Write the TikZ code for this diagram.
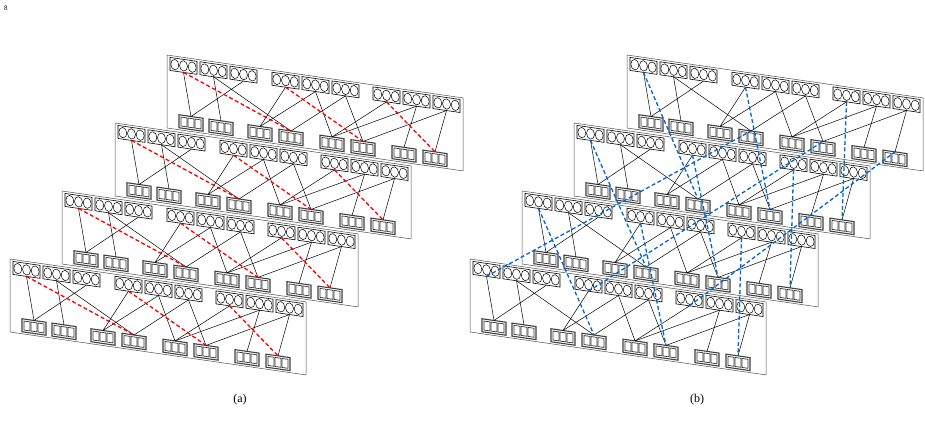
\documentclass[tikz,border=0pt]{standalone}
\usepackage{fontspec}
\setmainfont{Liberation Serif}
\begin{document}
\begin{tikzpicture}[x=1pt,y=-1pt,
  frame/.style={draw=black!70,line width=0.5pt},
  tbox/.style={draw=black,line width=0.6pt},
  bbox/.style={draw=black!75,line width=1.1pt},
  link/.style={draw=black,line width=0.5pt},
  red link/.style={draw=red,line width=1.3pt,dash pattern=on 4pt off 2.5pt},
  blue link/.style={draw=blue!50!cyan!80!black,line width=1.3pt,dash pattern=on 4pt off 2.5pt}]
\useasboundingbox (0,0) rectangle (925,440);
\node[font=\scriptsize] (pg) at (6,8) {8};
\def\panel#1#2#3{%
 \begin{scope}[shift={(#2,#3)},yslant=-0.145]
  \draw[frame] (0,0) rectangle (296,73);
  \foreach \x [count=\i] in {3,33,63,105,135,165,206,236,266}{
    \draw[tbox] (\x,2) rectangle ++(27,13);
    \foreach \k in {0,1,2} \draw[line width=0.5pt] (\x+4.8+\k*8.7,8.5) ellipse (4 and 5.2);
    \coordinate (#1t\i) at (\x+13.5,15);}
  \foreach \x [count=\i] in {12,42,81,112,153,184,225,256}{
    \draw[bbox] (\x,58) rectangle ++(24,13);
    \foreach \k in {0,1,2} \draw[line width=0.7pt,black!80] (\x+2+\k*7,60) rectangle ++(6,9);
    \coordinate (#1b\i) at (\x+12,58);}
 \end{scope}
 \foreach \a/\b in {1/1,3/1,2/2,2/4,4/3,5/3,5/5,6/4,6/6,7/5,8/5,8/7,9/6,9/8}
   \draw[link] (#1t\a) -- (#1b\b);}
\panel{a1}{167}{55}\panel{a2}{115}{123}\panel{a3}{62}{191}\panel{a4}{10}{259}
\panel{b1}{627}{55}\panel{b2}{574}{123}\panel{b3}{522}{191}\panel{b4}{470}{259}
\foreach \p in {a1,a2,a3,a4}
  \foreach \a/\b in {1/4,4/6,7/8} \draw[red link] (\p t\a) -- (\p b\b);
\foreach \p/\q in {b1/b2,b2/b3,b3/b4,b4/b1}
  \foreach \a/\b in {1/4,4/6,7/8} \draw[blue link] (\p t\a) -- (\q b\b);
\node[font=\large] (la) at (240,400) {(a)};
\node[font=\large] (lb) at (697,400) {(b)};
\end{tikzpicture}
\end{document}
